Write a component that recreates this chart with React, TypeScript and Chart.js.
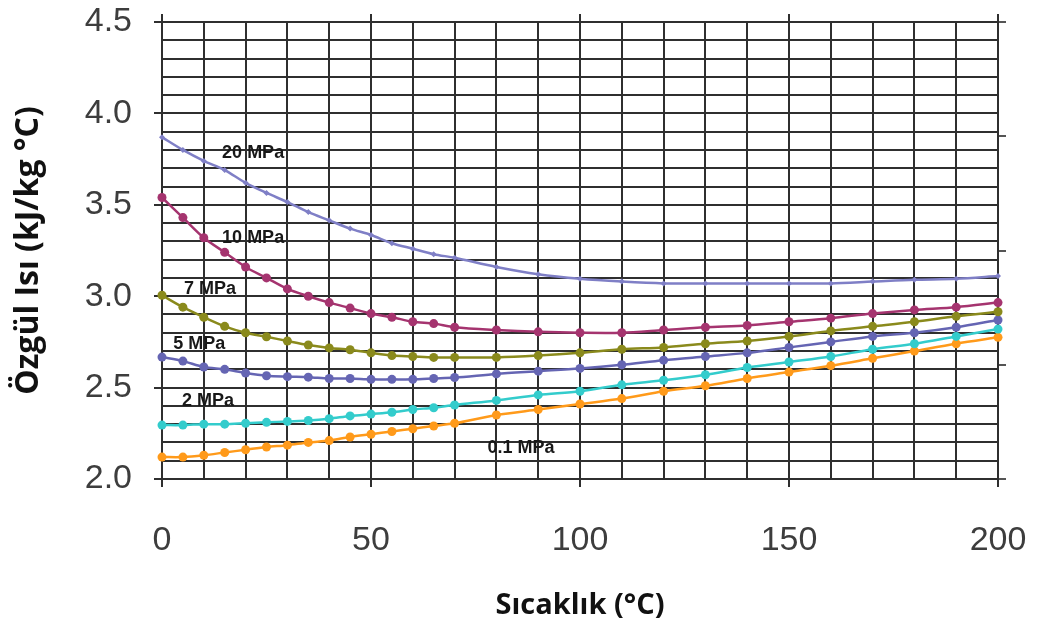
import { useEffect, useRef } from 'react';
import { Chart, registerables } from 'chart.js';

Chart.register(...registerables);

// Temperature samples (°C) shared by every pressure curve
const temps = [0, 5, 10, 15, 20, 25, 30, 35, 40, 45, 50, 55, 60, 65, 70, 80, 90, 100, 110, 120, 130, 140, 150, 160, 170, 180, 190, 200];

// Specific heat (kJ/kg °C) per pressure level
const cp20MPa = [3.87, 3.8, 3.74, 3.69, 3.62, 3.565, 3.515, 3.46, 3.415, 3.37, 3.335, 3.29, 3.26, 3.23, 3.21, 3.16, 3.12, 3.095, 3.08, 3.07, 3.07, 3.07, 3.07, 3.07, 3.08, 3.09, 3.095, 3.11];
const cp10MPa = [3.54, 3.43, 3.32, 3.24, 3.16, 3.1, 3.04, 3.0, 2.965, 2.935, 2.905, 2.885, 2.86, 2.85, 2.83, 2.815, 2.805, 2.8, 2.8, 2.815, 2.83, 2.84, 2.86, 2.88, 2.905, 2.925, 2.94, 2.965];
const cp7MPa = [3.005, 2.94, 2.885, 2.835, 2.8, 2.778, 2.755, 2.733, 2.717, 2.707, 2.69, 2.675, 2.67, 2.665, 2.665, 2.665, 2.675, 2.69, 2.71, 2.72, 2.74, 2.755, 2.78, 2.81, 2.835, 2.86, 2.89, 2.915];
const cp5MPa = [2.667, 2.645, 2.613, 2.6, 2.58, 2.565, 2.56, 2.557, 2.55, 2.55, 2.545, 2.545, 2.545, 2.55, 2.555, 2.575, 2.59, 2.605, 2.625, 2.65, 2.67, 2.69, 2.72, 2.75, 2.78, 2.8, 2.83, 2.87];
const cp2MPa = [2.295, 2.295, 2.3, 2.3, 2.305, 2.31, 2.315, 2.32, 2.33, 2.345, 2.355, 2.365, 2.38, 2.39, 2.405, 2.43, 2.46, 2.48, 2.515, 2.54, 2.57, 2.61, 2.64, 2.67, 2.71, 2.74, 2.78, 2.82];
const cp01MPa = [2.12, 2.12, 2.13, 2.145, 2.16, 2.175, 2.185, 2.2, 2.21, 2.23, 2.245, 2.26, 2.275, 2.29, 2.305, 2.35, 2.38, 2.41, 2.44, 2.48, 2.51, 2.55, 2.585, 2.62, 2.66, 2.7, 2.74, 2.775];

const seriesNames = ['20 MPa', '10 MPa', '7 MPa', '5 MPa', '2 MPa', '0.1 MPa'];
const seriesValues = [cp20MPa, cp10MPa, cp7MPa, cp5MPa, cp2MPa, cp01MPa];
const seriesColors = ['#7f7fc6', '#a5346f', '#8a8a1c', '#6565b3', '#33cccc', '#ff9a1a'];

// Curve name tags, anchored in data coordinates (°C, kJ/kg °C)
const tagX = [21.8, 21.8, 11.5, 8.9, 11, 85.9];
const tagY = [3.783, 3.318, 3.039, 2.739, 2.427, 2.17];

const yTitle = 'Özgül Isı (kJ/kg °C)';
const xTitle = 'Sıcaklık (°C)';

const gridColor = '#2f2f2f';
const tickFont = { family: '"Liberation Sans", Arial, sans-serif', size: 34 };
const xTitleFont = { family: '"Open Sans", "Noto Sans", sans-serif', size: 29, weight: 'bold' as const };
const yTitleFont = { family: '"Open Sans", "Noto Sans", sans-serif', size: 32, weight: 'bold' as const };

const isMultiple = (v: number, step: number) => Math.abs(v / step - Math.round(v / step)) < 1e-6;

// Fixed axis thickness, without the extra room Chart.js reserves for edge labels
const fixWidth = (w: number) => (s: any) => {
  s.width = w;
  s.paddingTop = 0;
  s.paddingBottom = 0;
};
const fixHeight = (h: number) => (s: any) => {
  s.height = h;
  s.paddingLeft = 0;
  s.paddingRight = 0;
};

const curveTags = {
  id: 'curveTags',
  afterDatasetsDraw(chart: Chart) {
    const { ctx } = chart;
    const xs = chart.scales.x;
    const ys = chart.scales.y;
    ctx.save();
    ctx.font = 'bold 18px "Liberation Sans", Arial, sans-serif';
    ctx.fillStyle = '#181818';
    ctx.textAlign = 'center';
    ctx.textBaseline = 'middle';
    seriesNames.forEach((name, i) => {
      ctx.fillText(name, xs.getPixelForValue(tagX[i]), ys.getPixelForValue(tagY[i]));
    });
    ctx.restore();
  },
};

export default function App() {
  const canvasRef = useRef<HTMLCanvasElement | null>(null);

  useEffect(() => {
    document.body.style.margin = '0';
    const canvas = canvasRef.current;
    if (!canvas) return;

    const datasets = seriesValues.map((vals, i) => ({
      label: seriesNames[i],
      data: temps.map((t, j) => ({ x: t, y: vals[j] })),
      borderColor: seriesColors[i],
      backgroundColor: seriesColors[i],
      borderWidth: 2.5,
      pointStyle: i === 0 ? ('rectRot' as const) : ('circle' as const),
      pointRadius: i === 0 ? 3 : 4.5,
      pointBorderWidth: 0,
      tension: 0.3,
      clip: false as const,
    }));

    const chart = new Chart(canvas, {
      type: 'line',
      data: { datasets },
      plugins: [curveTags],
      options: {
        responsive: false,
        animation: false,
        layout: { padding: 0 },
        plugins: { legend: { display: false }, tooltip: { enabled: false } },
        scales: {
          x: {
            type: 'linear',
            position: 'bottom',
            min: 0,
            max: 200,
            afterFit: fixHeight(147),
            ticks: {
              stepSize: 10,
              autoSkip: false,
              maxRotation: 0,
              padding: 33,
              color: '#3d3d3d',
              font: tickFont,
              callback: (v: any) => (isMultiple(Number(v), 50) ? String(v) : ''),
            },
            grid: {
              color: gridColor,
              lineWidth: 2,
              tickLength: 8,
              tickColor: (c: any) => (isMultiple(c.tick.value, 50) ? gridColor : 'rgba(0,0,0,0)'),
            },
            border: { color: gridColor, width: 2 },
            title: { display: true, text: xTitle, color: '#111', font: xTitleFont, padding: { top: 0, bottom: 3 } },
          },
          xTop: {
            type: 'linear',
            position: 'top',
            min: 0,
            max: 200,
            afterFit: fixHeight(22),
            ticks: { stepSize: 50, display: false },
            grid: { drawOnChartArea: false, color: gridColor, lineWidth: 2, tickLength: 8 },
            border: { color: gridColor, width: 2 },
          },
          y: {
            type: 'linear',
            position: 'left',
            min: 2.0,
            max: 4.5,
            afterFit: fixWidth(162),
            ticks: {
              stepSize: 0.1,
              maxTicksLimit: 100,
              autoSkip: false,
              padding: 22,
              color: '#3d3d3d',
              font: tickFont,
              callback: (v: any) => (isMultiple(Number(v), 0.5) ? Number(v).toFixed(1) : ''),
            },
            grid: {
              color: gridColor,
              lineWidth: 2,
              tickLength: 8,
              tickColor: (c: any) => (isMultiple(c.tick.value, 0.5) ? gridColor : 'rgba(0,0,0,0)'),
            },
            border: { color: gridColor, width: 2 },
            title: { display: true, text: yTitle, color: '#111', font: yTitleFont, padding: { top: 10, bottom: 0 } },
          },
          yRight: {
            type: 'linear',
            position: 'right',
            min: 0,
            max: 4,
            afterFit: fixWidth(39),
            ticks: { stepSize: 1, display: false },
            grid: { drawOnChartArea: false, color: '#555', lineWidth: 2, tickLength: 8 },
            border: { color: gridColor, width: 2 },
          },
        },
      },
    });

    return () => chart.destroy();
  }, []);

  return (
    <div style={{ width: 1037, height: 626, background: '#fff' }}>
      <canvas ref={canvasRef} width={1037} height={626} />
    </div>
  );
}
